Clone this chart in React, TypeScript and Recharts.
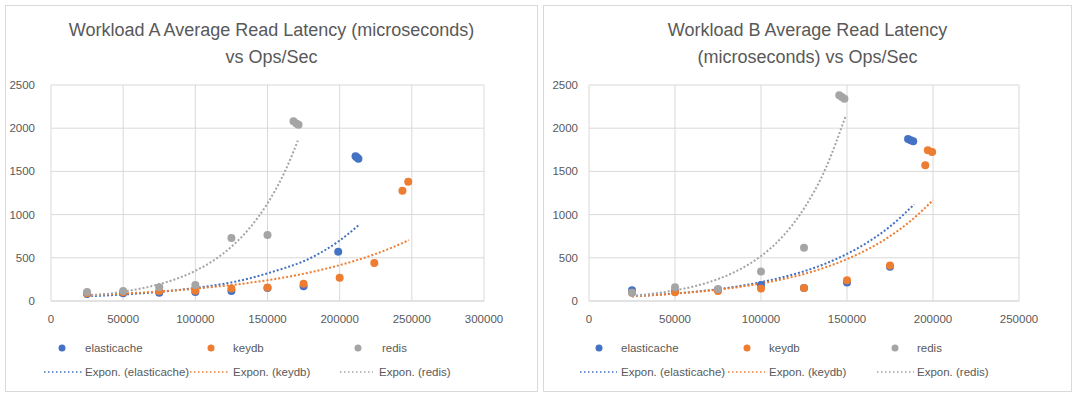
import React from 'react';
import { ComposedChart, Scatter, Line, XAxis, YAxis, CartesianGrid } from 'recharts';

// ---------- Workload A ----------
const aElasticacheOps = [25000, 50000, 75000, 100000, 125000, 150000, 175000, 199000, 211000, 212000, 213000];
const aElasticacheLat = [80, 90, 95, 105, 115, 150, 170, 570, 1675, 1660, 1645];
const aKeydbOps = [25000, 50000, 75000, 100000, 125000, 150000, 175000, 200000, 224000, 243500, 247500];
const aKeydbLat = [90, 100, 115, 120, 145, 155, 200, 270, 440, 1275, 1380];
const aRedisOps = [25000, 50000, 75000, 100000, 125000, 150000, 168000, 170000, 171500];
const aRedisLat = [105, 115, 160, 185, 730, 765, 2080, 2055, 2040];

const aTrendElasticacheOps = [25000, 37500, 50000, 62500, 75000, 87500, 100000, 112500, 125000, 137500, 150000, 162500, 175000, 187500, 200000, 213000];
const aTrendElasticacheLat = [55, 64, 75, 89, 105, 126, 150, 180, 215, 262, 320, 385, 460, 565, 700, 875];
const aTrendKeydbOps = [25000, 37500, 50000, 62500, 75000, 87500, 100000, 112500, 125000, 137500, 150000, 162500, 175000, 187500, 200000, 212500, 225000, 236500, 248000];
const aTrendKeydbLat = [68, 76, 85, 97, 110, 125, 143, 163, 185, 211, 240, 275, 315, 362, 415, 476, 545, 620, 705];
const aTrendRedisOps = [25000, 37500, 50000, 62500, 75000, 87500, 100000, 112500, 125000, 137500, 150000, 162500, 171000];
const aTrendRedisLat = [60, 80, 108, 145, 194, 260, 349, 468, 628, 842, 1130, 1515, 1855];

// ---------- Workload B ----------
const bElasticacheOps = [25000, 50000, 75000, 100000, 125000, 150000, 175000, 185500, 187000, 188500];
const bElasticacheLat = [125, 110, 130, 185, 150, 215, 395, 1875, 1860, 1850];
const bKeydbOps = [25000, 50000, 75000, 100000, 125000, 150000, 175000, 195500, 197000, 199500];
const bKeydbLat = [95, 100, 115, 145, 150, 240, 410, 1570, 1745, 1725];
const bRedisOps = [25000, 50000, 75000, 100000, 125000, 145500, 147000, 148500];
const bRedisLat = [95, 160, 140, 340, 615, 2380, 2360, 2340];

const bTrendElasticacheOps = [25000, 37500, 50000, 62500, 75000, 87500, 100000, 112500, 125000, 137500, 150000, 162500, 175000, 189000];
const bTrendElasticacheLat = [55, 69, 87, 109, 137, 173, 218, 274, 344, 433, 545, 686, 862, 1117];
const bTrendKeydbOps = [25000, 37500, 50000, 62500, 75000, 87500, 100000, 112500, 125000, 137500, 150000, 162500, 175000, 187500, 200000];
const bTrendKeydbLat = [55, 68, 85, 106, 131, 163, 203, 252, 313, 390, 485, 603, 750, 935, 1167];
const bTrendRedisOps = [25000, 37500, 50000, 62500, 75000, 87500, 100000, 112500, 125000, 137500, 149000];
const bTrendRedisLat = [60, 86, 123, 177, 254, 364, 520, 745, 1070, 1530, 2130];

const xTicksA = [0, 50000, 100000, 150000, 200000, 250000, 300000];
const xTicksB = [0, 50000, 100000, 150000, 200000, 250000];
const yTicks = [0, 500, 1000, 1500, 2000, 2500];

const seriesNames = ['elasticache', 'keydb', 'redis'];
const trendNames = ['Expon. (elasticache)', 'Expon. (keydb)', 'Expon. (redis)'];

const COLORS = ['#4472C4', '#ED7D31', '#A5A5A5'];
const TEXT = '#595959';
const GRID = '#d9d9d9';
const FONT = '"Liberation Sans", Arial, sans-serif';

const zip = (xs: number[], ys: number[]) => xs.map((x, i) => ({ x, y: ys[i] }));

type Panel = {
  points: { x: number; y: number }[][];
  trends: { x: number; y: number }[][];
  xTicks: number[];
  xMax: number;
};

const panelA: Panel = {
  points: [zip(aElasticacheOps, aElasticacheLat), zip(aKeydbOps, aKeydbLat), zip(aRedisOps, aRedisLat)],
  trends: [
    zip(aTrendElasticacheOps, aTrendElasticacheLat),
    zip(aTrendKeydbOps, aTrendKeydbLat),
    zip(aTrendRedisOps, aTrendRedisLat),
  ],
  xTicks: xTicksA,
  xMax: 300000,
};

const panelB: Panel = {
  points: [zip(bElasticacheOps, bElasticacheLat), zip(bKeydbOps, bKeydbLat), zip(bRedisOps, bRedisLat)],
  trends: [
    zip(bTrendElasticacheOps, bTrendElasticacheLat),
    zip(bTrendKeydbOps, bTrendKeydbLat),
    zip(bTrendRedisOps, bTrendRedisLat),
  ],
  xTicks: xTicksB,
  xMax: 250000,
};

const dot = (color: string) => (props: any) => (
  <circle cx={props.cx} cy={props.cy} r={4} fill={color} stroke="none" />
);

function PanelChart({ panel, yAxisWidth, rightMargin, yTickMargin }: { panel: Panel; yAxisWidth: number; rightMargin: number; yTickMargin: number }) {
  return (
    <ComposedChart width={540} height={399} margin={{ top: 85, right: rightMargin, bottom: 78, left: 0 }}>
      <CartesianGrid stroke={GRID} vertical={true} horizontal={true} />
      <XAxis
        type="number"
        dataKey="x"
        domain={[0, panel.xMax]}
        ticks={panel.xTicks}
        allowDataOverflow
        height={20}
        tickLine={false}
        tickSize={0}
        tickMargin={14}
        axisLine={{ stroke: GRID }}
        tick={{ fill: TEXT, fontSize: 11.5, fontFamily: FONT }}
        interval={0}
      />
      <YAxis
        type="number"
        dataKey="y"
        domain={[0, 2500]}
        ticks={yTicks}
        allowDataOverflow
        width={yAxisWidth}
        tickLine={false}
        tickSize={0}
        tickMargin={yTickMargin}
        axisLine={false}
        tick={{ fill: TEXT, fontSize: 11.5, fontFamily: FONT }}
        interval={0}
      />
      {panel.points.map((pts, i) => (
        <Scatter
          key={'s' + i}
          name={seriesNames[i]}
          data={pts}
          dataKey="y"
          fill={COLORS[i]}
          shape={dot(COLORS[i])}
          isAnimationActive={false}
        />
      ))}
      {panel.trends.map((pts, i) => (
        <Line
          key={'t' + i}
          name={trendNames[i]}
          data={pts}
          dataKey="y"
          type="monotone"
          stroke={COLORS[i]}
          strokeWidth={2}
          strokeDasharray="2 2"
          dot={false}
          activeDot={false}
          isAnimationActive={false}
        />
      ))}
    </ComposedChart>
  );
}

function Legend({ left, markerX, textX, lineX, text2X }: { left: number; markerX: number[]; textX: number[]; lineX: number[][]; text2X: number[] }) {
  const textStyle: React.CSSProperties = {
    position: 'absolute',
    fontFamily: FONT,
    fontSize: 11.5,
    color: TEXT,
    lineHeight: '14px',
    whiteSpace: 'nowrap',
  };
  return (
    <div style={{ position: 'absolute', left, top: 0, width: 540, height: 399, pointerEvents: 'none' }}>
      <svg width={540} height={399} style={{ position: 'absolute', left: 0, top: 0 }}>
        {markerX.map((mx, i) => (
          <circle key={'m' + i} cx={mx} cy={348} r={3.5} fill={COLORS[i]} />
        ))}
        {lineX.map((lx, i) => (
          <line key={'l' + i} x1={lx[0]} x2={lx[1]} y1={372} y2={372} stroke={COLORS[i]} strokeWidth={1.5} strokeDasharray="1.5 2.5" />
        ))}
      </svg>
      {seriesNames.map((n, i) => (
        <div key={'n' + i} style={{ ...textStyle, left: textX[i], top: 341 }}>{n}</div>
      ))}
      {trendNames.map((n, i) => (
        <div key={'tn' + i} style={{ ...textStyle, left: text2X[i], top: 365 }}>{n}</div>
      ))}
    </div>
  );
}

const titleStyle: React.CSSProperties = {
  position: 'absolute',
  top: 17,
  textAlign: 'center',
  fontFamily: FONT,
  fontSize: 18,
  lineHeight: '27px',
  color: TEXT,
};

export default function App() {
  return (
    <div style={{ position: 'absolute', left: 0, top: 0, width: 1080, height: 399, background: '#ffffff', overflow: 'hidden' }}>
      <div style={{ position: 'absolute', left: 5, top: 5, width: 531, height: 385, border: '1px solid #d9d9d9' }} />
      <div style={{ position: 'absolute', left: 543, top: 5, width: 527, height: 385, border: '1px solid #d9d9d9' }} />

      <div style={{ ...titleStyle, left: 5, width: 533 }}>
        Workload A Average Read Latency (microseconds)
        <br />
        vs Ops/Sec
      </div>
      <div style={{ ...titleStyle, left: 543, width: 529 }}>
        Workload B Average Read Latency
        <br />
        (microseconds) vs Ops/Sec
      </div>

      <div style={{ position: 'absolute', left: 0, top: 0 }}>
        <PanelChart panel={panelA} yAxisWidth={51} rightMargin={56} yTickMargin={16} />
      </div>
      <div style={{ position: 'absolute', left: 540, top: 0 }}>
        <PanelChart panel={panelB} yAxisWidth={49} rightMargin={61} yTickMargin={11} />
      </div>

      <Legend left={0} markerX={[62, 211, 358]} textX={[85, 233, 382]} lineX={[[44, 82], [190, 228], [340, 373]]} text2X={[85, 233, 379]} />
      <Legend left={540} markerX={[59, 207, 355]} textX={[81, 229, 377]} lineX={[[40, 77], [188, 225], [337, 374]]} text2X={[81, 229, 377]} />
    </div>
  );
}
